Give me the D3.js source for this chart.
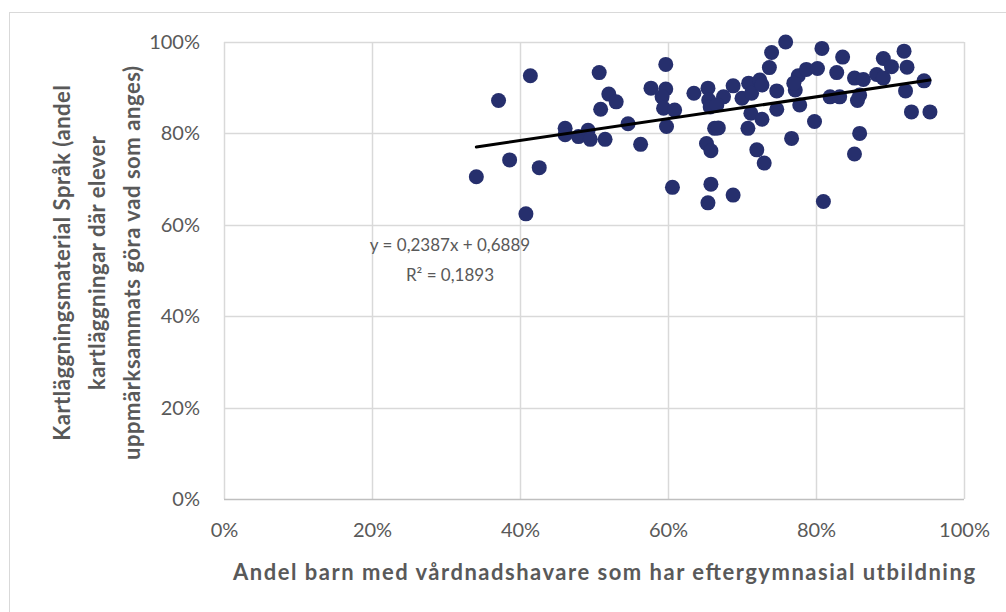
<!DOCTYPE html>
<html>
<head>
<meta charset="utf-8">
<script src="https://cdn.jsdelivr.net/npm/d3@7"></script>
<style>
  body { margin: 0; background: #fff; }
  svg text { font-family: Lato, "Open Sans", sans-serif; }
</style>
</head>
<body>
<div id="chart"></div>
<script>
const width = 1006;
const height = 612;

// share of children whose guardians have post-secondary education
const xValues = [
  0.341, 0.371, 0.414, 0.386, 0.426, 0.408, 0.461, 0.461, 0.479, 0.492,
  0.495, 0.515, 0.507, 0.520, 0.530, 0.509, 0.546, 0.563, 0.597, 0.577,
  0.597, 0.592, 0.594, 0.609, 0.598, 0.606, 0.635, 0.654, 0.655, 0.657,
  0.663, 0.652, 0.658, 0.658, 0.654, 0.675, 0.666, 0.668, 0.688, 0.700,
  0.709, 0.713, 0.724, 0.727, 0.712, 0.727, 0.708, 0.720, 0.730, 0.688,
  0.740, 0.759, 0.737, 0.747, 0.747, 0.767, 0.772, 0.776, 0.787, 0.778,
  0.802, 0.808, 0.798, 0.810, 0.819, 0.828, 0.836, 0.832, 0.852, 0.864,
  0.859, 0.856, 0.859, 0.852, 0.882, 0.891, 0.891, 0.902, 0.919, 0.923,
  0.946, 0.921, 0.929, 0.954, 0.770
];
// share of screenings where pupils noticed what the child does
const yValues = [
  0.705, 0.872, 0.926, 0.742, 0.725, 0.624, 0.811, 0.797, 0.793, 0.807,
  0.787, 0.787, 0.933, 0.886, 0.869, 0.853, 0.821, 0.776, 0.951, 0.899,
  0.897, 0.880, 0.855, 0.851, 0.815, 0.682, 0.888, 0.899, 0.873, 0.858,
  0.811, 0.778, 0.762, 0.689, 0.648, 0.880, 0.862, 0.812, 0.904, 0.877,
  0.910, 0.888, 0.917, 0.906, 0.844, 0.831, 0.811, 0.764, 0.735, 0.665,
  0.977, 1.000, 0.944, 0.893, 0.853, 0.789, 0.895, 0.926, 0.940, 0.862,
  0.942, 0.986, 0.826, 0.651, 0.880, 0.933, 0.967, 0.880, 0.921, 0.918,
  0.884, 0.872, 0.800, 0.755, 0.929, 0.921, 0.964, 0.946, 0.980, 0.945,
  0.915, 0.893, 0.847, 0.847, 0.910
];

const xTicks = [0, 0.2, 0.4, 0.6, 0.8, 1];
const yTicks = [0, 0.2, 0.4, 0.6, 0.8, 1];

const slope = 0.2387;
const intercept = 0.6889;
const equationLines = ["y = 0,2387x + 0,6889", "R² = 0,1893"];

const xTitle = "Andel barn med vårdnadshavare som har eftergymnasial utbildning";
const yTitleLines = [
  "Kartläggningsmaterial Språk (andel",
  "kartläggningar där elever",
  "uppmärksammats göra vad som anges)"
];

const points = xValues.map((x, i) => ({ x, y: yValues[i] }));

const svg = d3.select("#chart")
  .append("svg")
  .attr("width", width)
  .attr("height", height);

// outer chart border
svg.append("rect")
  .attr("x", 9.5)
  .attr("y", 12.5)
  .attr("width", 1000)
  .attr("height", 620)
  .attr("fill", "none")
  .attr("stroke", "#d9d9d9");

const x = d3.scaleLinear().domain([0, 1]).range([224, 964]);
const y = d3.scaleLinear().domain([0, 1]).range([499, 42]);

const pct = d3.format(".0%");

// gridlines
svg.append("g")
  .selectAll("line.h")
  .data(yTicks.slice(1))
  .enter()
  .append("line")
  .attr("x1", x(0))
  .attr("x2", x(1))
  .attr("y1", d => Math.round(y(d)) + 0.5)
  .attr("y2", d => Math.round(y(d)) + 0.5)
  .attr("stroke", "#d9d9d9")
  .attr("stroke-width", 1.5);

svg.append("g")
  .selectAll("line.v")
  .data(xTicks)
  .enter()
  .append("line")
  .attr("x1", d => Math.round(x(d)) + 0.5)
  .attr("x2", d => Math.round(x(d)) + 0.5)
  .attr("y1", y(1))
  .attr("y2", y(0))
  .attr("stroke", "#d9d9d9")
  .attr("stroke-width", 1.5);

// bottom axis line
svg.append("line")
  .attr("x1", x(0))
  .attr("x2", x(1))
  .attr("y1", Math.round(y(0)) + 0.5)
  .attr("y2", Math.round(y(0)) + 0.5)
  .attr("stroke", "#bfbfbf")
  .attr("stroke-width", 1.5);

// axes (labels only)
const xAxis = svg.append("g")
  .attr("transform", `translate(0,${y(0)})`)
  .call(d3.axisBottom(x).tickValues(xTicks).tickFormat(pct).tickSize(0).tickPadding(24));
xAxis.select(".domain").remove();
xAxis.selectAll("text")
  .attr("fill", "#595959")
  .attr("font-size", "20px")
  .attr("font-family", "Lato, sans-serif");

const yAxis = svg.append("g")
  .attr("transform", `translate(${x(0)},0)`)
  .call(d3.axisLeft(y).tickValues(yTicks).tickFormat(pct).tickSize(0).tickPadding(24));
yAxis.select(".domain").remove();
yAxis.selectAll("text")
  .attr("fill", "#595959")
  .attr("font-size", "20px")
  .attr("font-family", "Lato, sans-serif");

// points
svg.append("g")
  .selectAll("circle")
  .data(points)
  .enter()
  .append("circle")
  .attr("cx", d => x(d.x))
  .attr("cy", d => y(d.y))
  .attr("r", 7.5)
  .attr("fill", "#262f6d");

// linear trendline over the data range
const xMin = d3.min(xValues);
const xMax = d3.max(xValues);
svg.append("line")
  .attr("x1", x(xMin))
  .attr("y1", y(slope * xMin + intercept))
  .attr("x2", x(xMax))
  .attr("y2", y(slope * xMax + intercept))
  .attr("stroke", "#000")
  .attr("stroke-width", 3)
  .attr("stroke-linecap", "round");

// equation label
svg.append("g")
  .selectAll("text")
  .data(equationLines)
  .enter()
  .append("text")
  .attr("x", 450)
  .attr("y", (d, i) => 251 + i * 30)
  .attr("text-anchor", "middle")
  .attr("fill", "#595959")
  .attr("font-size", "17px")
  .text(d => d);

// axis titles
const xt = svg.append("text")
  .attr("x", 604)
  .attr("y", 580)
  .attr("text-anchor", "middle")
  .attr("fill", "#595959")
  .attr("font-size", "22px")
  .attr("font-weight", "bold")
  .text(xTitle);
xt.attr("textLength", 742).attr("lengthAdjust", "spacing");

svg.append("g")
  .selectAll("text")
  .data(yTitleLines)
  .enter()
  .append("text")
  .attr("transform", (d, i) => `translate(${70 + i * 35},263) rotate(-90)`)
  .attr("text-anchor", "middle")
  .attr("fill", "#595959")
  .attr("font-size", "22px")
  .attr("font-weight", "bold")
  .text(d => d)
  .each(function () {
    const w = this.getComputedTextLength();
    d3.select(this).attr("textLength", w * 1.05).attr("lengthAdjust", "spacing");
  });
</script>
</body>
</html>
